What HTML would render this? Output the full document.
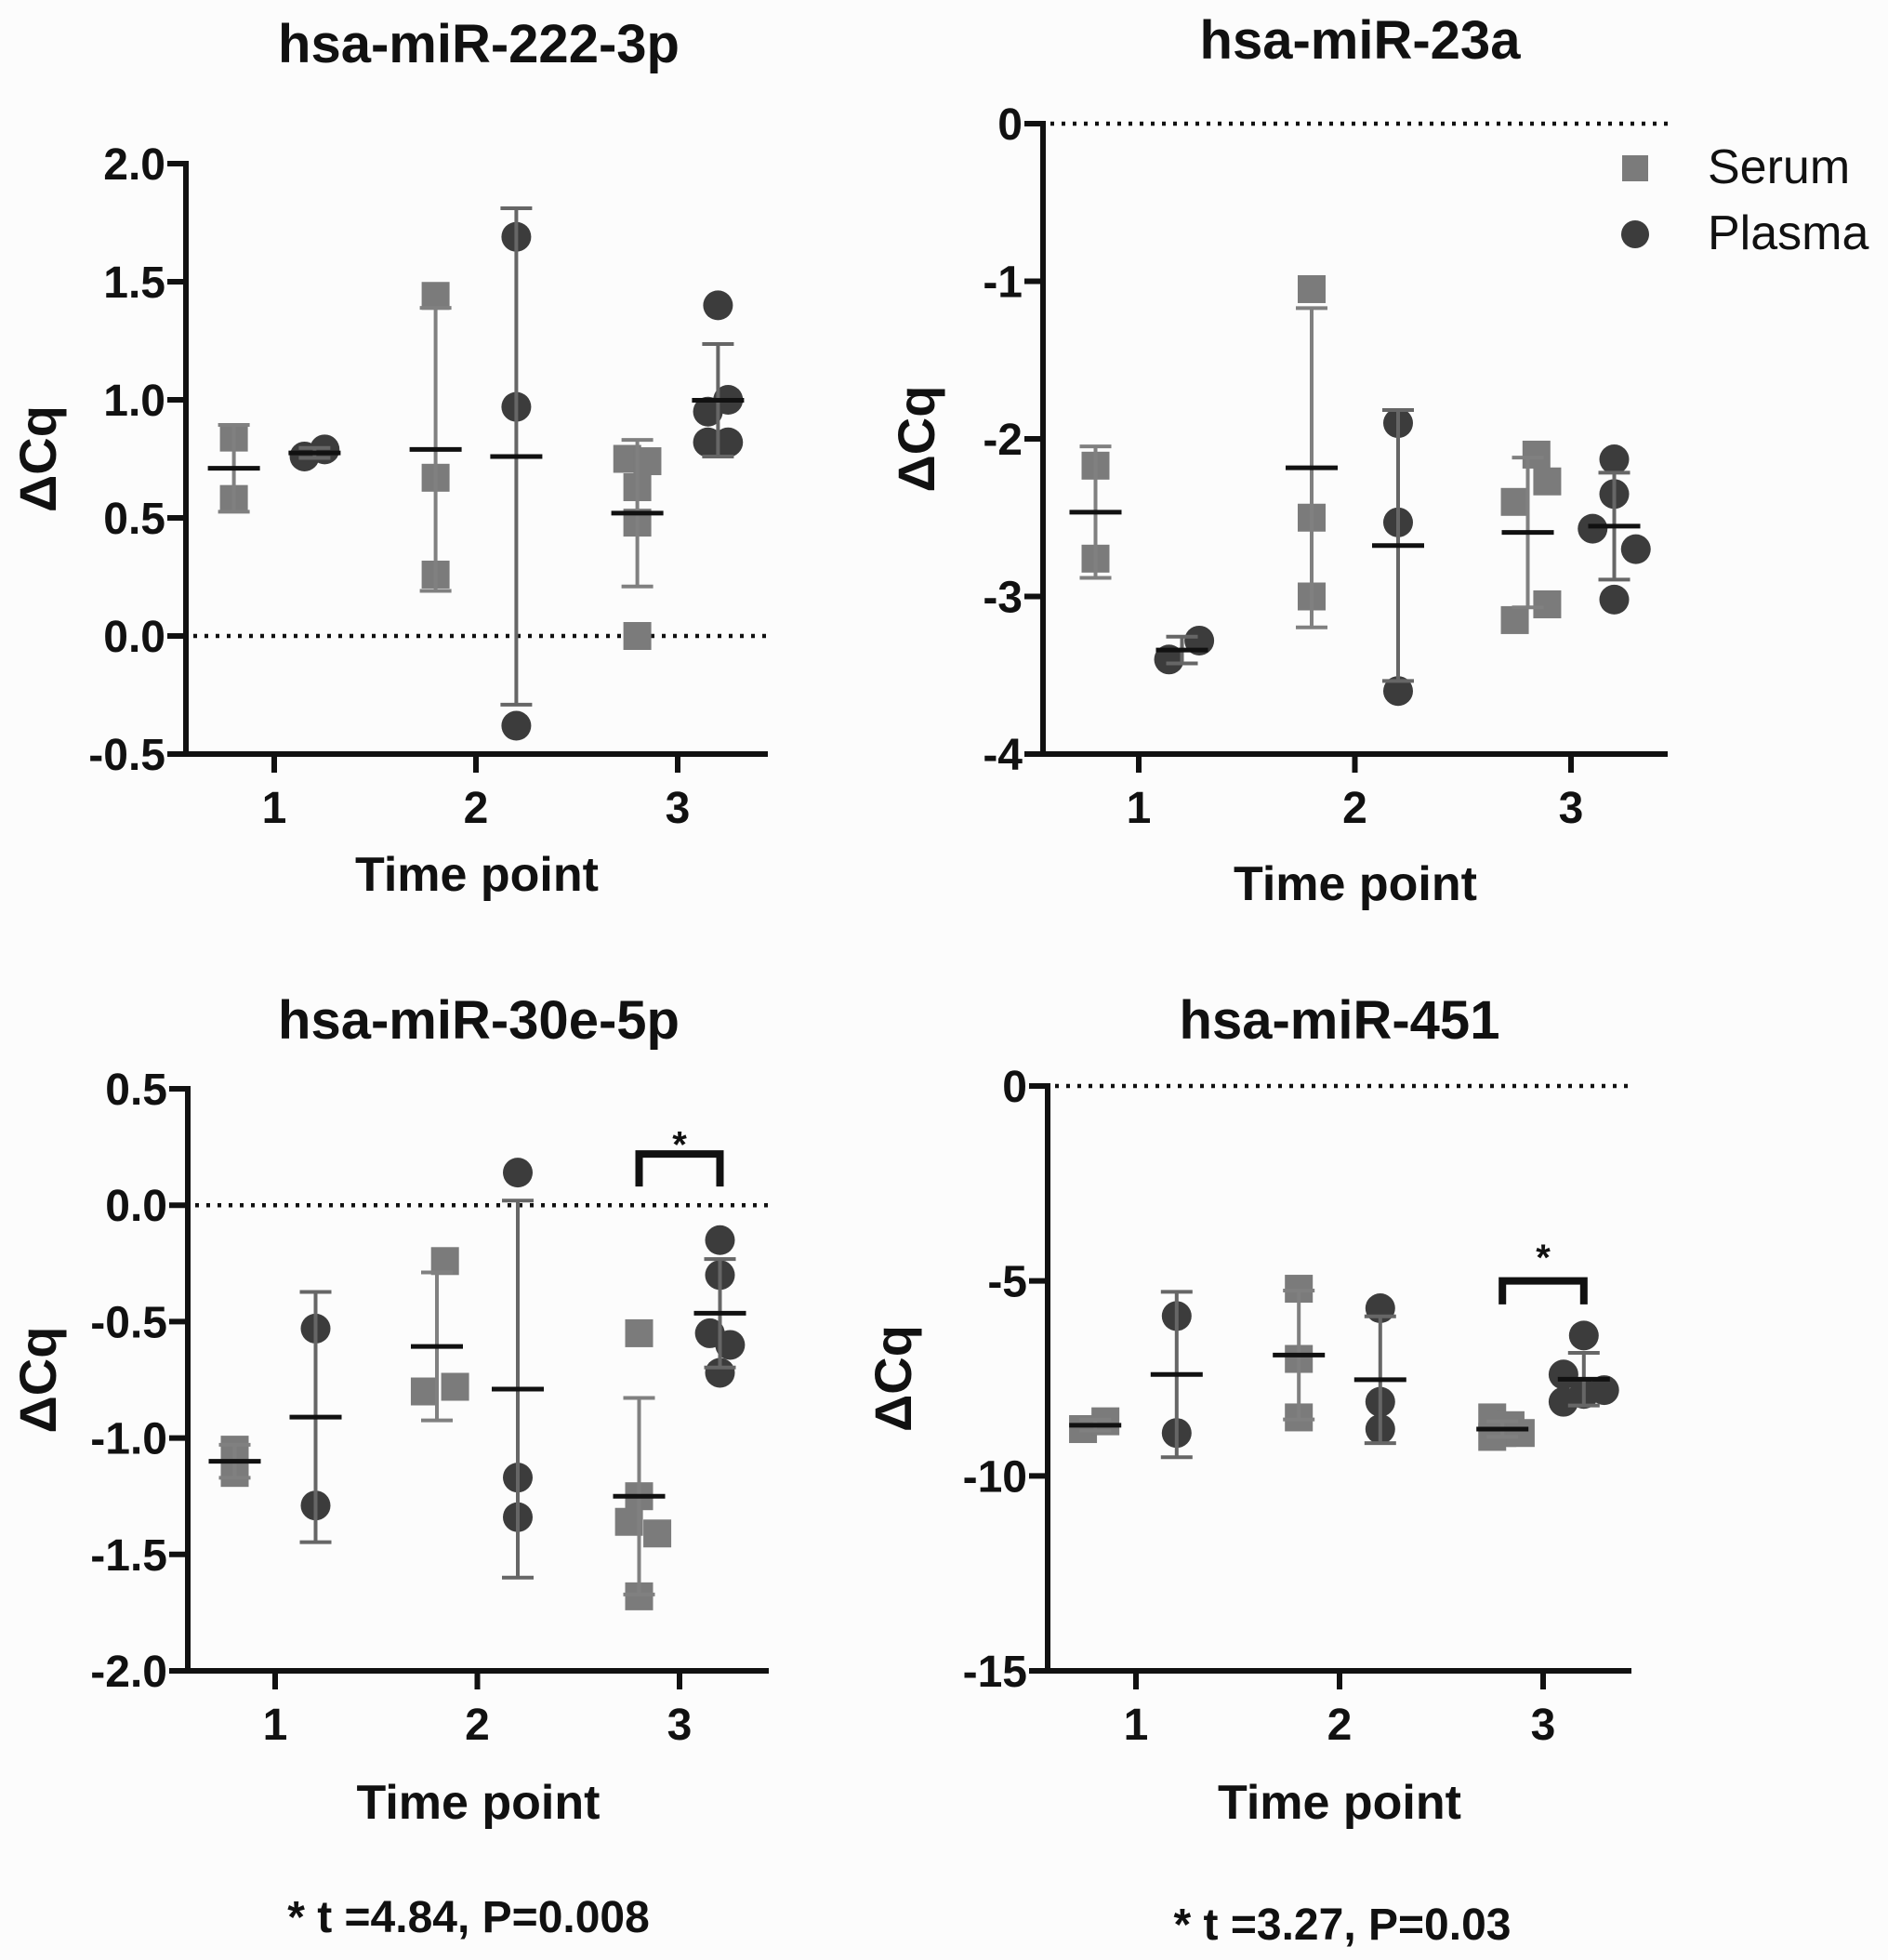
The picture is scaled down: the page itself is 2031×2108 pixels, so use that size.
<!DOCTYPE html>
<html><head><meta charset="utf-8">
<style>
html,body{margin:0;padding:0;background:#fcfcfc;}
svg{display:block;font-family:"Liberation Sans",Arial,sans-serif;}
</style></head>
<body>
<svg id="fig" width="2031" height="2108" viewBox="0 0 2031 2108" xmlns="http://www.w3.org/2000/svg">
<rect width="2031" height="2108" fill="#fcfcfc"/>
</svg>
<script>
// ---- data ----
const timePoints = [1, 2, 3];
// panel 1: hsa-miR-222-3p
const p1Serum = [[0.84, 0.58], [1.44, 0.67, 0.26], [0.75, 0.74, 0.63, 0.48, 0.00]];
const p1Plasma = [[0.76, 0.79], [1.69, 0.97, -0.38], [1.40, 1.00, 0.95, 0.82, 0.82]];
const p1Ticks = ["2.0", "1.5", "1.0", "0.5", "0.0", "-0.5"];
// panel 2: hsa-miR-23a
const p2Serum = [[-2.17, -2.76], [-1.05, -2.50, -3.00], [-2.10, -2.27, -2.40, -3.05, -3.15]];
const p2Plasma = [[-3.40, -3.28], [-1.90, -2.53, -3.60], [-2.13, -2.35, -2.57, -2.70, -3.02]];
const p2Ticks = ["0", "-1", "-2", "-3", "-4"];
// panel 3: hsa-miR-30e-5p
const p3Serum = [[-1.05, -1.15], [-0.24, -0.80, -0.78], [-0.55, -1.25, -1.36, -1.41, -1.68]];
const p3Plasma = [[-0.53, -1.29], [0.14, -1.17, -1.34], [-0.15, -0.30, -0.55, -0.60, -0.72]];
const p3Ticks = ["0.5", "0.0", "-0.5", "-1.0", "-1.5", "-2.0"];
// panel 4: hsa-miR-451
const p4Serum = [[-8.8, -8.6], [-5.2, -7.0, -8.5], [-8.5, -8.7, -8.9, -9.0, -8.9]];
const p4Plasma = [[-5.9, -8.9], [-5.7, -8.1, -8.8], [-6.4, -7.4, -7.8, -8.1, -7.9]];
const p4Ticks = ["0", "-5", "-10", "-15"];

// jitter (category units) for overlapping points
const jS = {1:[[0,0],[0,0,0],[-0.05,0.05,0,0,0]],2:[[0,0],[0,0,0],[0.04,0.09,-0.06,0.09,-0.06]],3:[[0,0],[0.04,-0.06,0.09],[0,0,-0.05,0.09,0]],4:[[-0.06,0.05],[0,0,0],[-0.05,0.04,0,-0.05,0.09]]};
const jP = {1:[[-0.05,0.05],[0,0,0],[0,0.05,-0.05,-0.05,0.05]],2:[[-0.06,0.08],[0,0,0],[0,0,-0.1,0.1,0]],3:[[0,0],[0,0,0],[0,0,-0.05,0.05,0]],4:[[0,0],[0,0,0],[0,-0.1,0.1,-0.1,0]]};

const NS = "http://www.w3.org/2000/svg";
const svg = document.getElementById('fig');
function el(tag, attrs, parent){const e=document.createElementNS(NS,tag);for(const k in attrs)e.setAttribute(k,attrs[k]);(parent||svg).appendChild(e);return e;}
function mean(a){return a.reduce((s,v)=>s+v,0)/a.length;}
function sd(a){const m=mean(a);return Math.sqrt(a.reduce((s,v)=>s+(v-m)*(v-m),0)/(a.length-1));}

function panel(cfg){
  const g = el('g',{});
  
  
  const y = v => cfg.y0px + (v - cfg.ymax) * (cfg.y1px - cfg.y0px) / (cfg.ymin - cfg.ymax);
  const x = c => cfg.t1 + (c - 1) * (cfg.t3 - cfg.t1) / 2;
  let t = el('text',{x:cfg.titleX,y:cfg.titleY,'text-anchor':'middle','font-size':58,'font-weight':'bold',fill:'#111'},g);
  t.textContent = cfg.title;
  
  
  t = el('text',{x:0,y:0,transform:`translate(${cfg.yLabX},${(cfg.y0px+cfg.y1px)/2}) rotate(-90)`,'text-anchor':'middle','font-size':56,'font-weight':'bold',fill:'#111'},g);
  t.textContent = 'ΔCq';
  
  
  const zl = el('line',{x1:cfg.ax+8,x2:cfg.xEnd,y1:y(0),y2:y(0),stroke:'#111','stroke-width':4.5,'stroke-dasharray':'4 8'},g);
  
  
  const ya = el('line',{x1:cfg.ax,x2:cfg.ax,y1:cfg.y0px-3,y2:cfg.y1px+3,stroke:'#111','stroke-width':6},g);
  
  
  const xa = el('line',{x1:cfg.ax-3,x2:cfg.xEnd,y1:cfg.y1px,y2:cfg.y1px,stroke:'#111','stroke-width':6},g);
  
  
  cfg.ticks.forEach(lbl=>{
    const v=parseFloat(lbl), yy=y(v);
    el('line',{x1:cfg.ax-20,x2:cfg.ax,y1:yy,y2:yy,stroke:'#111','stroke-width':6},g);
    const tt=el('text',{x:cfg.ax-22,y:yy+17,'text-anchor':'end','font-size':48,'font-weight':'bold',fill:'#111'},g);
    tt.textContent=lbl;
    
    
  });
  timePoints.forEach(c=>{
    el('line',{x1:x(c),x2:x(c),y1:cfg.y1px,y2:cfg.y1px+20,stroke:'#111','stroke-width':6},g);
    const tt=el('text',{x:x(c),y:cfg.y1px+74,'text-anchor':'middle','font-size':48,'font-weight':'bold',fill:'#111'},g);
    tt.textContent=String(c);
    
    
  });
  t = el('text',{x:(cfg.ax+cfg.xEnd)/2,y:cfg.xLabY,'text-anchor':'middle','font-size':52,'font-weight':'bold',fill:'#111'},g);
  t.textContent='Time point';
  
  
  [[cfg.serum,-0.2,'#7b7b7b','square',jS[cfg.id],'#808080'],[cfg.plasma,0.2,'#3c3c3c','circle',jP[cfg.id],'#666']].forEach(([ser,off,col,shape,jit,barCol])=>{
    ser.forEach((vals,i)=>{
      const cx=x(timePoints[i]+off), m=mean(vals), s=sd(vals);
      vals.forEach((v,k)=>{
        const px=x(timePoints[i]+off+jit[i][k]);
        let mk;
        if(shape==='square') mk=el('rect',{x:px-15,y:y(v)-15,width:30,height:30,fill:col},g);
        else mk=el('circle',{cx:px,cy:y(v),r:16,fill:col},g);
        
        
      });
      const eb=el('path',{d:`M${cx},${y(m-s)}V${y(m+s)}M${cx-17},${y(m-s)}H${cx+17}M${cx-17},${y(m+s)}H${cx+17}`,stroke:barCol,'stroke-width':4,fill:'none'},g);
      
      
      const ml=el('line',{x1:cx-28,x2:cx+28,y1:y(m),y2:y(m),stroke:'#111','stroke-width':5},g);
      
      
    });
  });
  if(cfg.sig){
    const [top,bot,star]=cfg.sig, xa2=x(3-0.2), xb=x(3+0.2);
    const br=el('path',{d:`M${xa2},${y(bot)}V${y(top)}H${xb}V${y(bot)}`,stroke:'#111','stroke-width':8,fill:'none'},g);
    
    
    const st=el('text',{x:(xa2+xb)/2,y:y(star)+26,'text-anchor':'middle','font-size':40,'font-weight':'bold',fill:'#111'},g);
    st.textContent='*';
    
    
  }
  if(cfg.foot){
    const ft=el('text',{x:cfg.footX,y:cfg.footY,'text-anchor':'middle','font-size':48,'font-weight':'bold',fill:'#111'},g);
    ft.textContent=cfg.foot;
    
    
  }
}

panel({id:1,name:'panel-mir-222-3p',title:'hsa-miR-222-3p',titleX:515,titleY:67,yLabX:60,ax:200,xEnd:826,t1:295,t3:729,y0px:176,y1px:811,ymax:2.0,ymin:-0.5,ticks:p1Ticks,serum:p1Serum,plasma:p1Plasma,xLabY:958});
panel({id:2,name:'panel-mir-23a',title:'hsa-miR-23a',titleX:1463,titleY:63,yLabX:1005,ax:1122,xEnd:1794,t1:1225,t3:1690,y0px:133,y1px:811,ymax:0,ymin:-4,ticks:p2Ticks,serum:p2Serum,plasma:p2Plasma,xLabY:968});
panel({id:3,name:'panel-mir-30e-5p',title:'hsa-miR-30e-5p',titleX:515,titleY:1117,yLabX:60,ax:202,xEnd:827,t1:296,t3:731,y0px:1171,y1px:1797,ymax:0.5,ymin:-2.0,ticks:p3Ticks,serum:p3Serum,plasma:p3Plasma,xLabY:1956,sig:[0.22,0.08,0.31],foot:'* t =4.84, P=0.008',footX:504,footY:2078});
panel({id:4,name:'panel-mir-451',title:'hsa-miR-451',titleX:1441,titleY:1117,yLabX:980,ax:1127,xEnd:1755,t1:1222,t3:1660,y0px:1168,y1px:1797,ymax:0,ymin:-15,ticks:p4Ticks,serum:p4Serum,plasma:p4Plasma,xLabY:1956,sig:[-5.0,-5.6,-4.1],foot:'* t =3.27, P=0.03',footX:1444,footY:2086});

const lg = el('g',{});


const ls = el('rect',{x:1745,y:167,width:28,height:28,fill:'#7b7b7b'},lg);


const lc = el('circle',{cx:1759,cy:252,r:15,fill:'#3c3c3c'},lg);


let lt = el('text',{x:1837,y:197,'font-size':52,fill:'#111'},lg);
lt.textContent='Serum';


lt = el('text',{x:1837,y:268,'font-size':52,fill:'#111'},lg);
lt.textContent='Plasma';


</script>
</body></html>
